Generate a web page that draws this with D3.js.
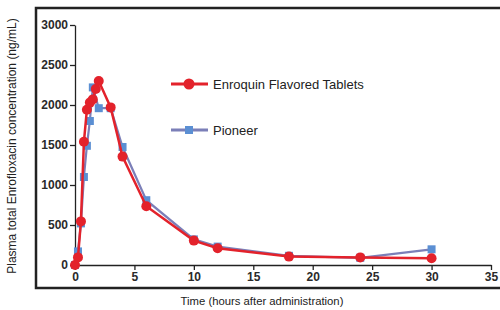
<!DOCTYPE html>
<html>
<head>
<meta charset="utf-8">
<script src="https://cdn.jsdelivr.net/npm/d3@7"></script>
<style>
  body { margin: 0; background: #fff; }
  .narrow { font-family: "Liberation Sans Narrow", "Arial Narrow", "Liberation Sans", Arial, sans-serif; }
</style>
</head>
<body>
<div id="chart"></div>
<script>
// sampling times (hours) and concentrations (ng/mL)
var enroquin_time = [0, 0.25, 0.5, 0.75, 1, 1.25, 1.5, 1.75, 2, 3, 4, 6, 10, 12, 18, 24, 30];
var enroquin_conc = [0, 95, 545, 1540, 1940, 2030, 2070, 2200, 2300, 1970, 1355, 735, 305, 210, 105, 95, 85];
var pioneer_time = [0, 0.25, 0.5, 0.75, 1, 1.25, 1.5, 2, 3, 4, 6, 10, 12, 18, 24, 30];
var pioneer_conc = [0, 170, 520, 1100, 1490, 1800, 2220, 1960, 1960, 1475, 810, 320, 230, 115, 90, 196];
var x_ticks = [0, 5, 10, 15, 20, 25, 30, 35];
var y_ticks = [0, 500, 1000, 1500, 2000, 2500, 3000];
var series_names = ["Enroquin Flavored Tablets", "Pioneer"];

var W = 500, H = 310;
var svg = d3.select("#chart").append("svg")
    .attr("width", W).attr("height", H);

// outer frame (runs off the right edge like the reference)
svg.append("rect")
    .attr("x", 36).attr("y", 8)
    .attr("width", 480).attr("height", 280)
    .attr("fill", "none")
    .attr("stroke", "#222")
    .attr("stroke-width", 2.5);

var x = d3.scaleLinear().domain([0, 35]).range([75, 491]);
var y = d3.scaleLinear().domain([0, 3000]).range([265, 25]);

var xAxis = svg.append("g")
    .attr("transform", "translate(0," + y(0) + ")")
    .call(d3.axisBottom(x).tickValues(x_ticks).tickFormat(d3.format("d"))
        .tickSize(5).tickPadding(2).tickSizeOuter(0));
var yAxis = svg.append("g")
    .attr("transform", "translate(" + x(0) + ",0)")
    .call(d3.axisLeft(y).tickValues(y_ticks).tickFormat(d3.format("d"))
        .tickSize(5).tickPadding(2).tickSizeOuter(0));

[xAxis, yAxis].forEach(function (g) {
    g.selectAll("path, line").attr("stroke", "#222").attr("stroke-width", 1.3);
    g.selectAll("text")
        .attr("fill", "#2a2a2a")
        .style("font-family", "'Liberation Sans', Arial, sans-serif")
        .style("font-size", "12px")
        .style("font-weight", "bold");
});

// axis titles
svg.append("text")
    .attr("class", "narrow")
    .attr("transform", "translate(16,146) rotate(-90)")
    .attr("text-anchor", "middle")
    .style("font-size", "12px")
    .attr("fill", "#222")
    .text("Plasma total Enrofloxacin concentration (ng/mL)");
svg.append("text")
    .attr("class", "narrow")
    .attr("x", 262).attr("y", 305)
    .attr("text-anchor", "middle")
    .style("font-size", "11.3px")
    .attr("fill", "#222")
    .text("Time (hours after administration)");

var line = d3.line().x(d => x(d[0])).y(d => y(d[1]));
var pioneer = d3.zip(pioneer_time, pioneer_conc);
var enroquin = d3.zip(enroquin_time, enroquin_conc);

var blueLine = "#7b7fb8", blueMark = "#5b8fd3", red = "#e3222b";

// Pioneer (behind)
svg.append("path").datum(pioneer)
    .attr("d", line)
    .attr("fill", "none")
    .attr("stroke", blueLine)
    .attr("stroke-width", 2.2);
svg.selectAll(".sq").data(pioneer).join("rect")
    .attr("class", "sq")
    .attr("x", d => x(d[0]) - 4).attr("y", d => y(d[1]) - 4)
    .attr("width", 8).attr("height", 8)
    .attr("fill", blueMark);

// Enroquin
svg.append("path").datum(enroquin)
    .attr("d", line)
    .attr("fill", "none")
    .attr("stroke", red)
    .attr("stroke-width", 2.5);
svg.selectAll(".dot").data(enroquin).join("circle")
    .attr("class", "dot")
    .attr("cx", d => x(d[0])).attr("cy", d => y(d[1]))
    .attr("r", 5)
    .attr("fill", red);

// legend
var leg = svg.append("g");
leg.append("line").attr("x1", 171).attr("x2", 208).attr("y1", 84).attr("y2", 84)
    .attr("stroke", red).attr("stroke-width", 3);
leg.append("circle").attr("cx", 189).attr("cy", 84).attr("r", 5.5).attr("fill", red);
leg.append("line").attr("x1", 171).attr("x2", 208).attr("y1", 130).attr("y2", 130)
    .attr("stroke", blueLine).attr("stroke-width", 3);
leg.append("rect").attr("x", 185).attr("y", 126).attr("width", 8).attr("height", 8).attr("fill", blueMark);
leg.selectAll(".lt").data(series_names).join("text")
    .attr("class", "lt narrow")
    .attr("x", 213)
    .attr("y", (d, i) => 84 + i * 46)
    .attr("dy", "0.35em")
    .style("font-size", "13px")
    .attr("fill", "#222")
    .text(d => d);
</script>
</body>
</html>
